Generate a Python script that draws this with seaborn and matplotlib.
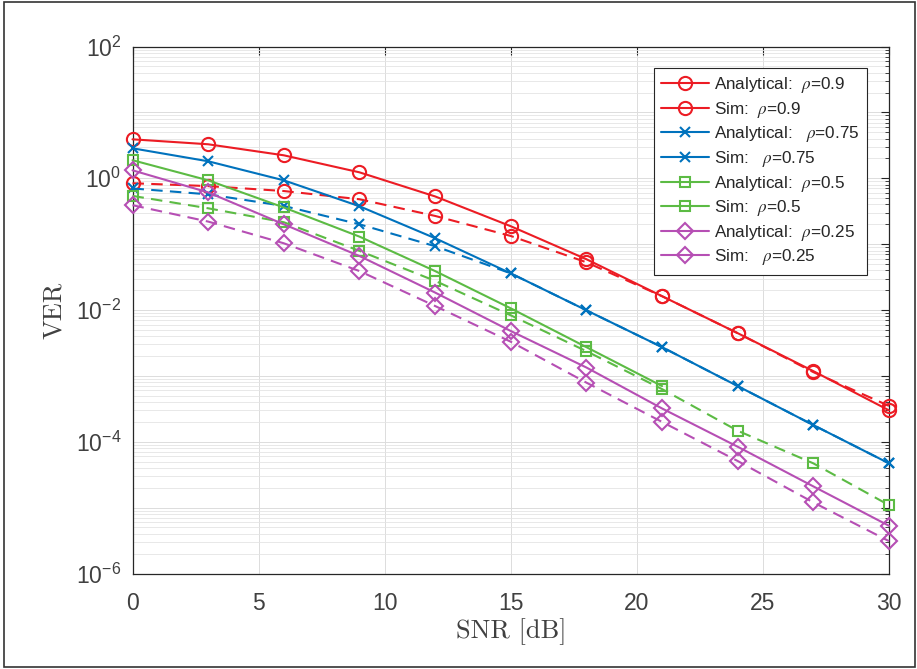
import matplotlib

matplotlib.use("Agg", force=True)
import numpy as np  # noqa: E402
import seaborn as sns  # noqa: E402
from matplotlib import pyplot as plt  # noqa: E402
from matplotlib.patches import Rectangle  # noqa: E402
from matplotlib.ticker import FuncFormatter, LogLocator, MultipleLocator, NullFormatter  # noqa: E402

SNR_DB = [0, 3, 6, 9, 12, 15, 18, 21, 24, 27, 30]

ANALYTICAL_RHO_090 = [3.9, 3.28, 2.23, 1.23, 0.53, 0.187, 0.059, 0.0162, 0.00445, 0.00118, 3.0e-4]
SIM_RHO_090 = [0.84, 0.76, 0.64, 0.48, 0.268, 0.133, 0.053, 0.0162, 0.00445, 0.00114, 3.5e-4]
ANALYTICAL_RHO_075 = [2.85, 1.81, 0.93, 0.376, 0.123, 0.036, 0.0099, 0.00273, 7.0e-4, 1.79e-4, 4.7e-5]
SIM_RHO_075 = [0.70, 0.57, 0.38, 0.20, 0.093, 0.036, 0.0099, 0.00273, 7.0e-4, 1.79e-4, 4.7e-5]
ANALYTICAL_RHO_050 = [1.88, 0.93, 0.36, 0.13, 0.039, 0.0106, 0.00273, 7.0e-4, np.nan, np.nan, np.nan]
SIM_RHO_050 = [0.54, 0.35, 0.215, 0.079, 0.0277, 0.0083, 0.00237, 6.3e-4, 1.47e-4, 4.7e-5, 1.09e-5]
ANALYTICAL_RHO_025 = [1.32, 0.61, 0.20, 0.066, 0.0184, 0.0048, 0.00134, 3.2e-4, 8.4e-5, 2.1e-5, 5.3e-6]
SIM_RHO_025 = [0.39, 0.22, 0.103, 0.039, 0.0115, 0.0033, 7.9e-4, 2.0e-4, 5.1e-5, 1.2e-5, 3.1e-6]

LABELS = [
    r"Analytical:  $\rho$=0.9",
    r"Sim:  $\rho$=0.9",
    r"Analytical:   $\rho$=0.75",
    r"Sim:   $\rho$=0.75",
    r"Analytical:  $\rho$=0.5",
    r"Sim:  $\rho$=0.5",
    r"Analytical:  $\rho$=0.25",
    r"Sim:   $\rho$=0.25",
]

RED = "#EC1C24"
BLUE = "#0072BD"
GREEN = "#5CBB44"
PURPLE = "#B64FB4"

DASHED = (0, (5.5, 3.5))

sns.set_theme(style="white")
plt.rcParams["font.family"] = ["Liberation Sans", "DejaVu Sans"]
plt.rcParams["mathtext.fontset"] = "stix"

series = [
    (ANALYTICAL_RHO_090, RED, "o", 9.5, "-"),
    (SIM_RHO_090, RED, "o", 9.5, DASHED),
    (ANALYTICAL_RHO_075, BLUE, "x", 7.5, "-"),
    (SIM_RHO_075, BLUE, "x", 7.5, DASHED),
    (ANALYTICAL_RHO_050, GREEN, "s", 7.5, "-"),
    (SIM_RHO_050, GREEN, "s", 7.5, DASHED),
    (ANALYTICAL_RHO_025, PURPLE, "D", 8.0, "-"),
    (SIM_RHO_025, PURPLE, "D", 8.0, DASHED),
]

fig = plt.figure(figsize=(9.17, 6.69), dpi=100)
ax = fig.add_axes([132.5 / 917, 1 - 573.5 / 669, (889 - 132.5) / 917, (573.5 - 46.5) / 669])

for (values, color, marker, size, style), label in zip(series, LABELS):
    sns.lineplot(
        x=SNR_DB,
        y=values,
        ax=ax,
        color=color,
        linestyle=style,
        linewidth=1.5,
        marker=marker,
        markersize=size,
        markerfacecolor="none",
        markeredgecolor=color,
        markeredgewidth=1.5,
        label=label,
        clip_on=False,
        zorder=3,
    )

ax.set_yscale("log")
ax.set_xlim(0, 30)
ax.set_ylim(1e-6, 1e2)
ax.xaxis.set_major_locator(MultipleLocator(5))
ax.yaxis.set_major_locator(LogLocator(base=10, numticks=20))
ax.yaxis.set_minor_locator(LogLocator(base=10, subs=np.arange(2, 10), numticks=20))
ax.yaxis.set_minor_formatter(NullFormatter())


def _decade_label(value, _pos):
    exponent = int(round(np.log10(value)))
    if exponent % 2:
        return ""
    return r"$\mathdefault{10^{%d}}$" % exponent


ax.yaxis.set_major_formatter(FuncFormatter(_decade_label))

ax.grid(which="major", color="#dcdcdc", linewidth=0.7)
ax.grid(which="minor", axis="y", color="#e4e4e4", linewidth=0.6)
ax.set_axisbelow(True)

for spine in ax.spines.values():
    spine.set_color("#262626")
    spine.set_linewidth(0.9)

ax.tick_params(
    which="both", direction="in", top=True, right=True, colors="#262626",
    labelcolor="#404040", labelsize=16.5,
)
ax.tick_params(which="major", length=6, width=0.8)
ax.tick_params(which="minor", length=3, width=0.6)
ax.tick_params(axis="x", pad=13)
ax.tick_params(axis="y", pad=8)

ax.set_xlabel("SNR [dB]", family="cmr10", fontsize=19, color="#404040", labelpad=3)
ax.set_ylabel("VER", family="cmr10", fontsize=19, color="#404040", labelpad=7)

legend = ax.legend(
    loc="upper right",
    bbox_to_anchor=((867 - 132.5) / 756.5, (573.5 - 68) / 527),
    borderaxespad=0,
    fontsize=12.3,
    frameon=True,
    fancybox=False,
    framealpha=1,
    edgecolor="#262626",
    handlelength=2.8,
    handletextpad=0.3,
    labelspacing=0.27,
    borderpad=0.42,
)
legend.get_frame().set_linewidth(0.8)
for text in legend.get_texts():
    text.set_color("#262626")
for handle in legend.get_lines():
    handle.set_linestyle("-")

fig.patches.append(
    Rectangle((4 / 917, 2 / 669), 911 / 917, 665 / 669, transform=fig.transFigure,
              fill=False, edgecolor="#333333", linewidth=1.2)
)

fig.savefig("out.png", dpi=100)
plt.close(fig)
